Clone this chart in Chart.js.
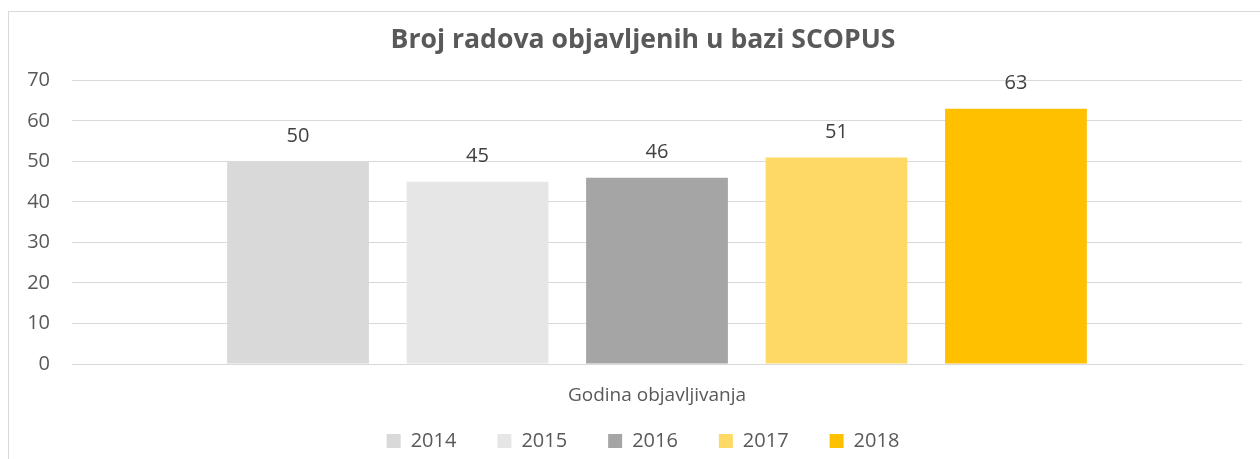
<!DOCTYPE html>
<html>
<head>
<meta charset="utf-8">
<script src="https://cdn.jsdelivr.net/npm/chart.js@4.4.0/dist/chart.umd.min.js"></script>
<style>
    body { margin: 0; background: #fff; overflow: hidden; }
    #frame {
        position: absolute; left: 8px; top: 11px; width: 1300px; height: 500px;
        border: 1px solid #d9d9d9;
    }
    #wrap { position: absolute; left: 0; top: 0; width: 1260px; height: 461px; }
</style>
</head>
<body>
<div id="frame"></div>
<div id="wrap"><canvas id="scopusChart" width="1260" height="461"></canvas></div>
<script>
// podaci sa slike
const categories = ['Godina objavljivanja'];
const years = ['2014', '2015', '2016', '2017', '2018'];
const paperCounts = [50, 45, 46, 51, 63];
const barColors = ['#D9D9D9', '#E7E6E6', '#A5A5A5', '#FFD966', '#FFC000'];
const yTicks = [0, 10, 20, 30, 40, 50, 60, 70];

const textColor = '#595959';
const fontFamily = '"Open Sans", "Noto Sans", sans-serif';

// vrijednosti iznad stupaca
const valueLabels = {
    id: 'valueLabels',
    afterDatasetsDraw(chart) {
        const ctx = chart.ctx;
        ctx.save();
        ctx.font = '20px ' + fontFamily;
        ctx.fillStyle = '#404040';
        ctx.textAlign = 'center';
        ctx.textBaseline = 'middle';
        chart.data.datasets.forEach((ds, i) => {
            const meta = chart.getDatasetMeta(i);
            meta.data.forEach((bar, j) => {
                ctx.fillText(String(ds.data[j]), bar.x, bar.y - 25);
            });
        });
        ctx.restore();
    }
};

const datasets = years.map((year, i) => ({
    label: year,
    data: [paperCounts[i]],
    backgroundColor: barColors[i],
    borderWidth: 0
}));

// oznake osi smiju izaći iz okvira osi (bez clipa)
function noLabelClip(scale) {
    scale._computeLabelArea = () => undefined;
}

new Chart(document.getElementById('scopusChart').getContext('2d'), {
    type: 'bar',
    data: { labels: categories, datasets: datasets },
    plugins: [valueLabels],
    options: {
        responsive: false,
        animation: false,
        categoryPercentage: 0.767,
        barPercentage: 0.79,
        layout: { padding: { left: 44, right: 18, top: 0, bottom: 0 } },
        scales: {
            y: {
                min: 0,
                max: 70,
                afterBuildTicks: (scale) => {
                    scale.ticks = yTicks.map(v => ({ value: v }));
                },
                afterFit: (scale) => { scale.width = 28; noLabelClip(scale); },
                border: { display: false },
                grid: { color: '#d9d9d9', lineWidth: 1, drawTicks: false },
                ticks: { padding: 22, color: textColor, font: { family: fontFamily, size: 20 } }
            },
            x: {
                afterFit: (scale) => { scale.height = 26; noLabelClip(scale); },
                border: { color: '#d9d9d9' },
                grid: { display: false, drawTicks: false },
                ticks: { padding: 20, color: textColor, font: { family: fontFamily, size: 19 } }
            }
        },
        plugins: {
            title: {
                display: true,
                text: 'Broj radova objavljenih u bazi SCOPUS',
                color: textColor,
                font: { family: fontFamily, size: 26.6, weight: 'bold' },
                padding: { top: 24, bottom: 24.5 }
            },
            legend: {
                position: 'bottom',
                labels: {
                    boxWidth: 14,
                    boxHeight: 14,
                    padding: 41,
                    color: textColor,
                    font: { family: fontFamily, size: 20 }
                }
            },
            tooltip: { enabled: false }
        }
    }
});
</script>
</body>
</html>
